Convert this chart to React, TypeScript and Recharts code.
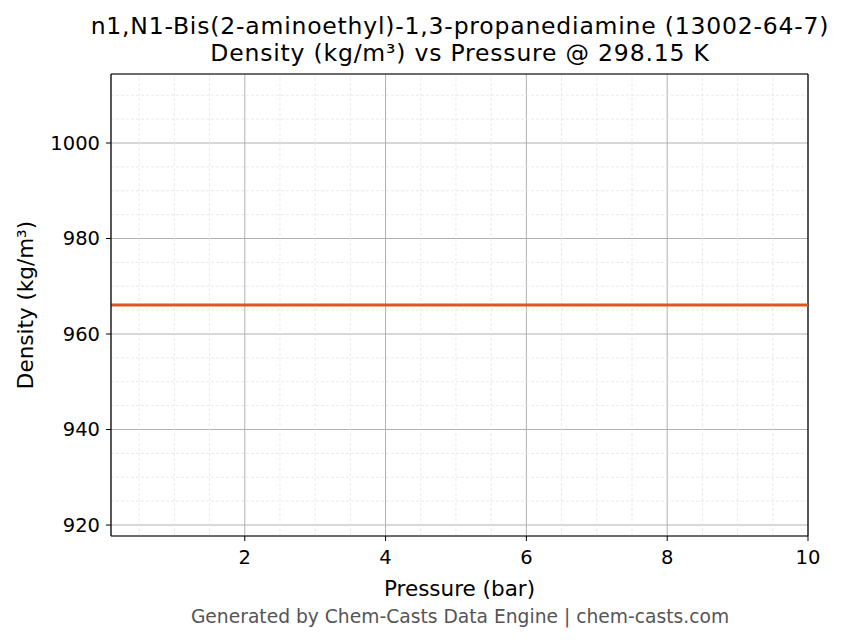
import { CartesianGrid, Line, LineChart, ReferenceLine, XAxis, YAxis } from "recharts";

const pressures = [0.1, 1, 2, 3, 4, 5, 6, 7, 8, 9, 10];
const densities = [966.1, 966.1, 966.1, 966.1, 966.1, 966.1, 966.1, 966.1, 966.1, 966.1, 966.1];

const xTicks = [2, 4, 6, 8, 10];
const xMinorTicks = [0.5, 1, 1.5, 2.5, 3, 3.5, 4.5, 5, 5.5, 6.5, 7, 7.5, 8.5, 9, 9.5];
const yTicks = [920, 940, 960, 980, 1000];
const yMinorTicks = [925, 930, 935, 945, 950, 955, 965, 970, 975, 985, 990, 995, 1005, 1010];

const xDomain: [number, number] = [0.1, 10];
const yDomain: [number, number] = [917.7, 1014.45];

const data = pressures.map((p, i) => ({ pressure: p, density: densities[i] }));

const FONT = "'DejaVu Sans', sans-serif";
const tickStyle = { fontSize: 19.5, fill: "#000", fontFamily: FONT };
const noLabel = () => <g />;

const titleLine = { position: "absolute" as const, left: 60, width: 800, textAlign: "center" as const, fontSize: 23.5, letterSpacing: 0.8, lineHeight: "26px", height: 26, color: "#000", whiteSpace: "nowrap" as const };

export default function App() {
  return (
    <div style={{ position: "absolute", left: 0, top: 0, width: 844, height: 644, background: "#fff", fontFamily: FONT }}>
      <div style={{ ...titleLine, top: 13 }}>n1,N1-Bis(2-aminoethyl)-1,3-propanediamine (13002-64-7)</div>
      <div style={{ ...titleLine, top: 40 }}>Density (kg/m³) vs Pressure @ 298.15 K</div>
      <LineChart width={844} height={644} data={data} margin={{ top: 74, right: 36, bottom: 78, left: 0 }}>
        <CartesianGrid stroke="#b0b0b0" strokeWidth={1} />
        {xMinorTicks.map((v) => (
          <ReferenceLine key={"xm" + v} x={v} stroke="#e4e4e4" strokeDasharray="3 2" strokeWidth={0.8} />
        ))}
        {yMinorTicks.map((v) => (
          <ReferenceLine key={"ym" + v} y={v} stroke="#e4e4e4" strokeDasharray="3 2" strokeWidth={0.8} />
        ))}
        <XAxis
          xAxisId="minor"
          dataKey="pressure"
          type="number"
          domain={xDomain}
          allowDataOverflow
          ticks={xMinorTicks}
          tick={noLabel}
          tickSize={3}
          height={0}
          axisLine={false}
          tickLine={{ stroke: "#000" }}
        />
        <XAxis
          dataKey="pressure"
          type="number"
          domain={xDomain}
          allowDataOverflow
          ticks={xTicks}
          tick={tickStyle}
          tickSize={5}
          tickMargin={9}
          height={30}
          axisLine={{ stroke: "#000", strokeWidth: 1.2 }}
          tickLine={{ stroke: "#000" }}
        />
        <YAxis
          yAxisId="minor"
          type="number"
          domain={yDomain}
          allowDataOverflow
          ticks={yMinorTicks}
          tick={noLabel}
          tickSize={3}
          width={0}
          axisLine={false}
          tickLine={{ stroke: "#000" }}
        />
        <YAxis
          type="number"
          domain={yDomain}
          allowDataOverflow
          ticks={yTicks}
          tick={tickStyle}
          tickSize={5}
          tickMargin={6}
          width={111}
          axisLine={{ stroke: "#000", strokeWidth: 1.2 }}
          tickLine={{ stroke: "#000" }}
        />
        <ReferenceLine x={10} stroke="#000" strokeWidth={1.2} />
        <ReferenceLine y={1014.45} stroke="#000" strokeWidth={1.2} />
        <Line
          type="linear"
          dataKey="density"
          stroke="#de5624"
          strokeWidth={3}
          dot={false}
          isAnimationActive={false}
        />
      </LineChart>
      <div style={{ position: "absolute", left: 111, width: 697, top: 576, textAlign: "center", fontSize: 21.5, color: "#000" }}>
        Pressure (bar)
      </div>
      <div
        style={{
          position: "absolute",
          left: 24.5,
          top: 305,
          transform: "translate(-50%, -50%) rotate(-90deg)",
          whiteSpace: "nowrap",
          fontSize: 21.5,
          color: "#000",
        }}
      >
        Density (kg/m³)
      </div>
      <div style={{ position: "absolute", left: 0, width: 920, top: 606, textAlign: "center", fontSize: 18.7, color: "#555", whiteSpace: "nowrap" }}>
        Generated by Chem-Casts Data Engine | chem-casts.com
      </div>
    </div>
  );
}
